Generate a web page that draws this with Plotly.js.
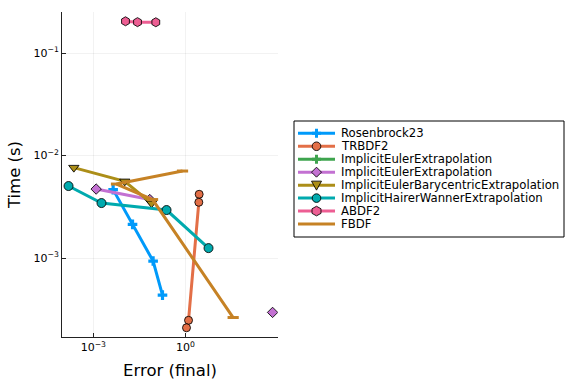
<!DOCTYPE html>
<html>
<head>
<meta charset="utf-8">
<script src="https://cdn.plot.ly/plotly-3.0.1.min.js"></script>
<style>html,body{margin:0;padding:0;background:#fff}#plot{width:576px;height:384px}</style>
</head>
<body>
<div id="plot"></div>
<script>
// Series data (error, time)
const seriesNames = ["Rosenbrock23","TRBDF2","ImplicitEulerExtrapolation","ImplicitEulerExtrapolation",
  "ImplicitEulerBarycentricExtrapolation","ImplicitHairerWannerExtrapolation","ABDF2","FBDF"];

const rosenbrockErr = [4.43e-3, 1.9e-2, 8.9e-2, 0.18];
const rosenbrockTime = [4.65e-3, 2.13e-3, 9.35e-4, 4.35e-4];

const trbdf2Err = [2.82, 2.75, 1.27, 1.09];
const trbdf2Time = [4.19e-3, 3.5e-3, 2.47e-4, 2.09e-4];

const ieExtrapErr = [null];
const ieExtrapTime = [null];

const ieExtrap2Err = [1.24e-3, 6.96e-2, null, 697];
const ieExtrap2Time = [4.71e-3, 3.72e-3, null, 2.95e-4];

const ieBaryErr = [2.32e-4, 1.06e-2, 7.9e-2];
const ieBaryTime = [7.62e-3, 5.6e-3, 3.42e-3];

const ihwErr = [1.56e-4, 1.85e-3, 0.244, 5.7];
const ihwTime = [5.04e-3, 3.44e-3, 2.94e-3, 1.25e-3];

const abdf2Err = [1.12e-2, 2.76e-2, 0.109];
const abdf2Time = [0.204, 0.2, 0.1995];

const fbdfErr = [0.81, 5.71e-3, 8.53e-2, 36.2];
const fbdfTime = [7.06e-3, 5.27e-3, 3.72e-3, 2.63e-4];

const xTickVals = [1e-3, 1];
const xTickText = ["10<sup>−3</sup>", "10<sup>0</sup>"];
const yTickVals = [1e-3, 1e-2, 1e-1];
const yTickText = ["10<sup>−3</sup>", "10<sup>−2</sup>", "10<sup>−1</sup>"];

const colors = ["#009AFA","#E36F47","#3EA44E","#C371D2","#AC8E18","#00AAAE","#ED5E93","#C68225"];
const symbols = ["cross","circle","cross","diamond","triangle-down","circle","hexagon","line-ew"];
const outlineColor = "rgba(0,0,0,0.85)";
const outline = {color: outlineColor, width: 1};

function tr(i, x, y, marker) {
  return {x: x, y: y, name: seriesNames[i], type: "scatter", mode: "lines+markers",
    line: {color: colors[i], width: 3}, marker: Object.assign({color: colors[i], symbol: symbols[i]}, marker),
    connectgaps: false, showlegend: false};
}

const data = [
  tr(0, rosenbrockErr, rosenbrockTime, {size: 8, line: {width: 0}}),
  tr(1, trbdf2Err, trbdf2Time, {size: 8, line: outline}),
  tr(2, ieExtrapErr, ieExtrapTime, {size: 8, line: {width: 0}}),
  tr(3, ieExtrap2Err, ieExtrap2Time, {size: 8, line: outline}),
  tr(4, ieBaryErr, ieBaryTime, {size: 9, line: outline}),
  tr(5, ihwErr, ihwTime, {size: 9, line: outline}),
  tr(6, abdf2Err, abdf2Time, {size: 9, line: outline}),
  tr(7, fbdfErr, fbdfTime, {size: 8, line: {color: colors[7], width: 3}})
];

// ---- custom legend (layout geometry in pixels) ----
const W = 576, H = 384, mL = 62, mR = 298, mT = 12, mB = 47;
const pw = W - mL - mR, ph = H - mT - mB;
const px2x = p => (p - mL) / pw;
const py2y = p => (H - mB - p) / ph;

const legendBox = {left: 294, top: 121, right: 564, bottom: 237};
const legendRow0 = 133.3, legendRowStep = 12.96;
const sampleX0 = 298, sampleX1 = 335, sampleMid = 316.5, textX = 339;

const glyphPaths = {
  "cross": "M-4.5,-1.5H-1.5V-4.5H1.5V-1.5H4.5V1.5H1.5V4.5H-1.5V1.5H-4.5Z",
  "diamond": "M0,5L5,0L0,-5L-5,0Z",
  "triangle-down": "M-5,4L5,4L0,-5Z",
  "hexagon": "M-4.5,2.3L0,4.8L4.5,2.3L4.5,-2.3L0,-4.8L-4.5,-2.3Z"
};

const shapes = [{type: "rect", xref: "paper", yref: "paper",
  x0: px2x(legendBox.left), x1: px2x(legendBox.right), y0: py2y(legendBox.bottom), y1: py2y(legendBox.top),
  line: {color: "#000", width: 1}, fillcolor: "#fff", layer: "above"}];
const annotations = [];

seriesNames.forEach((name, i) => {
  const cy = legendRow0 + i * legendRowStep;
  const yv = py2y(cy);
  shapes.push({type: "line", xref: "paper", yref: "paper", x0: px2x(sampleX0), x1: px2x(sampleX1), y0: yv, y1: yv,
    line: {color: colors[i], width: 3}, layer: "above"});
  const sym = symbols[i];
  const base = {xref: "paper", yref: "paper", xsizemode: "pixel", ysizemode: "pixel",
    xanchor: px2x(sampleMid), yanchor: yv, layer: "above"};
  if (sym === "circle") {
    shapes.push(Object.assign({type: "circle", x0: -4.3, x1: 4.3, y0: -4.3, y1: 4.3,
      fillcolor: colors[i], line: {color: outlineColor, width: 1}}, base));
  } else if (sym === "cross") {
    shapes.push(Object.assign({type: "path", path: glyphPaths.cross, fillcolor: colors[i],
      line: {width: 0}}, base));
  } else if (glyphPaths[sym]) {
    shapes.push(Object.assign({type: "path", path: glyphPaths[sym], fillcolor: colors[i],
      line: {color: outlineColor, width: 1}}, base));
  }
  annotations.push({xref: "paper", yref: "paper", x: px2x(textX), y: yv, xanchor: "left", yanchor: "middle",
    text: name, showarrow: false, font: {family: "DejaVu Sans", size: 11.7, color: "#000"}});
});

const axisCommon = {
  type: "log", showline: true, linecolor: "#222", linewidth: 1, mirror: false,
  showgrid: true, gridcolor: "rgba(0,0,0,0.1)", gridwidth: 0.5, zeroline: false,
  ticks: "inside", ticklen: 4, tickcolor: "#222", tickmode: "array",
  tickfont: {family: "DejaVu Sans", size: 11, color: "#000"}
};

const layout = {
  width: W, height: H,
  margin: {l: mL, r: mR, t: mT, b: mB},
  paper_bgcolor: "#fff", plot_bgcolor: "#fff",
  font: {family: "DejaVu Sans", color: "#000"},
  xaxis: Object.assign({}, axisCommon, {range: [-4.02, 3.02], tickvals: xTickVals, ticktext: xTickText,
    title: {text: "Error (final)", font: {family: "DejaVu Sans", size: 16.5}, standoff: 11}}),
  yaxis: Object.assign({}, axisCommon, {range: [-3.77, -0.6], tickvals: yTickVals, ticktext: yTickText,
    title: {text: "Time (s)", font: {family: "DejaVu Sans", size: 16.5}, standoff: 8}}),
  showlegend: false,
  shapes: shapes,
  annotations: annotations
};

Plotly.newPlot("plot", data, layout, {displayModeBar: false, staticPlot: true});
</script>
</body>
</html>
